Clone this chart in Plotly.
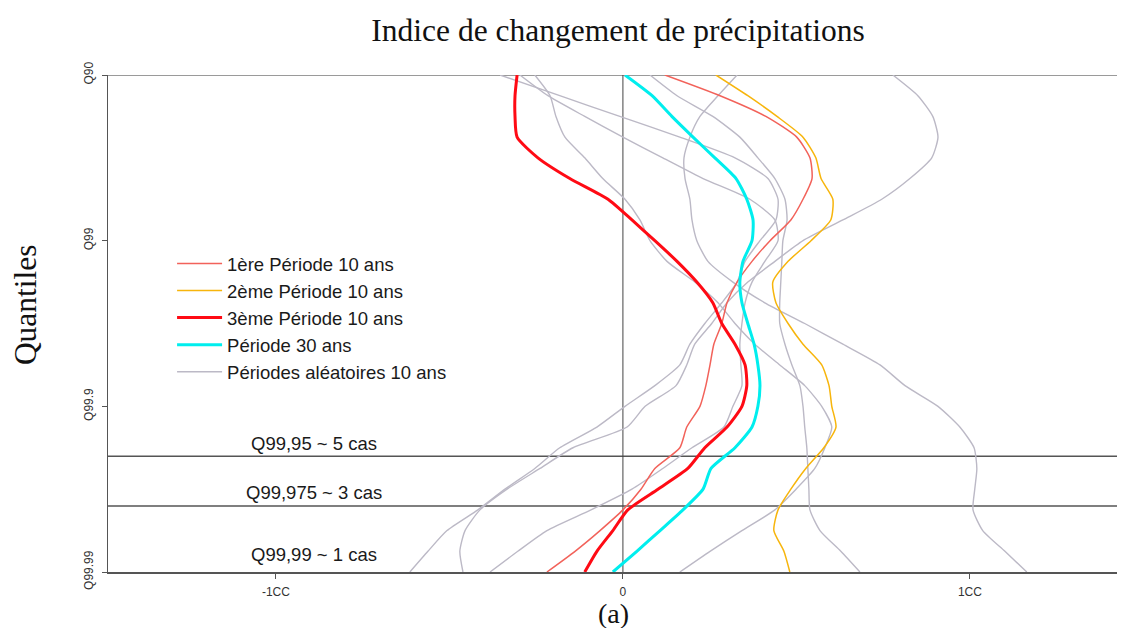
import plotly.graph_objects as go

# Quantile levels on the vertical axis (1 = Q90, 2 = Q99, 3 = Q99.9, 4 = Q99.99)
niveaux = [1.0, 1.125, 1.25, 1.375, 1.5, 1.625, 1.75, 1.875, 2.0, 2.125, 2.25, 2.375,
           2.5, 2.625, 2.75, 2.875, 3.0, 3.125, 3.25, 3.375, 3.5, 3.625, 3.75, 3.875, 4.0]

# Change index (in %, 100 = "1CC") for each series
periode1 = [12.1, 28.0, 41.2, 50.1, 53.9, 54.5, 51.9, 48.4, 42.4, 37.2, 32.9, 30.0,
            28.5, 26.2, 25.1, 23.9, 22.2, 18.4, 16.4, 9.2, 5.2, 0.0, -6.6, -13.8, -21.9]
periode2 = [26.8, 36.0, 44.4, 51.9, 55.6, 57.1, 60.5, 59.9, 54.2, 47.6, 43.2, 44.1,
            47.6, 51.9, 57.3, 59.4, 60.2, 61.4, 57.9, 52.7, 48.4, 44.7, 43.5, 46.4, 48.1]
periode3 = [-30.5, -31.1, -31.1, -30.5, -24.5, -15.3, -4.3, 2.6, 9.2, 15.6, 21.3, 25.9,
            28.5, 32.3, 35.2, 35.7, 34.3, 30.0, 23.6, 18.7, 10.1, 1.4, -2.9, -7.5, -11.0]
periode30 = [0.6, 8.4, 14.1, 20.2, 26.5, 32.6, 35.7, 37.5, 37.2, 34.6, 33.7, 34.3,
             36.0, 37.8, 38.9, 39.5, 38.9, 37.2, 32.3, 25.4, 23.1, 17.3, 10.7, 4.0, -2.9]

alea1 = [77.8, 85.0, 89.3, 90.8, 89.0, 82.7, 74.6, 63.4, 51.9, 43.8, 36.0, 30.0,
         25.6, 20.7, 18.4, 15.3, 6.4, 1.2, -14.4, -23.9, -33.4, -41.2, -45.5, -47.0, -46.1]
alea2 = [7.8, 15.6, 25.9, 33.7, 38.9, 43.8, 46.7, 47.3, 46.1, 45.8, 45.5, 45.2,
         45.2, 46.7, 48.7, 51.0, 51.9, 52.4, 53.0, 53.3, 53.6, 53.9, 56.8, 62.8, 68.3]
alea3 = [32.9, 27.4, 22.2, 19.3, 17.6, 17.9, 19.3, 19.9, 21.3, 24.5, 31.7, 40.9,
         52.4, 63.4, 74.1, 81.3, 90.8, 97.1, 101.2, 102.0, 101.4, 100.9, 103.7, 110.1, 116.4]
alea4 = [-35.4, -18.2, -0.9, 16.4, 32.3, 41.8, 44.7, 44.1, 39.5, 35.2, 32.9, 28.5,
         23.6, 19.3, 16.4, 9.2, 0.6, -7.5, -18.2, -25.4, -34.0, -41.8, -50.7, -56.2, -61.4]
alea5 = [-29.7, -21.6, -11.0, 0.0, 11.5, 23.1, 36.6, 43.8, 44.7, 40.9, 37.2, 35.2,
         34.3, 33.7, 34.0, 34.3, 31.7, 29.1, 19.9, 11.5, 2.6, -9.2, -21.9, -30.3, -38.3]
alea6 = [-25.4, -21.0, -19.3, -16.7, -11.0, -5.8, 0.6, 4.9, 7.8, 12.7, 20.7, 27.4,
         32.3, 38.0, 45.2, 52.4, 57.3, 60.2, 58.2, 55.3, 49.9, 43.8, 34.3, 25.1, 16.4]

ytick_vals = [1, 2, 3, 4]
ytick_text = ["Q90", "Q99", "Q99.9", "Q99.99"]
xtick_vals = [-100, 0, 100]
xtick_text = ["-1CC", "0", "1CC"]

seuils = [3.301, 3.602]          # Q99,95 and Q99,975
seuil_labels = ["Q99,95 ~ 5 cas", "Q99,975 ~ 3 cas", "Q99,99 ~ 1 cas"]
seuil_label_y = [3.222, 3.522, 3.893]

fig = go.Figure()

grey = "#BCB9C6"
for i, xs in enumerate([alea1, alea2, alea3, alea4, alea5, alea6]):
    fig.add_trace(go.Scatter(
        x=xs, y=niveaux, mode="lines", name="Périodes aléatoires 10 ans",
        line=dict(color=grey, width=1.4, shape="spline", smoothing=0.6),
        legendgroup="alea", showlegend=(i == 0), legendrank=5,
        hoverinfo="skip"))

fig.add_trace(go.Scatter(x=periode1, y=niveaux, mode="lines", name="1ère Période 10 ans",
                         line=dict(color="#F2625A", width=1.5, shape="spline", smoothing=0.6),
                         legendrank=1))
fig.add_trace(go.Scatter(x=periode2, y=niveaux, mode="lines", name="2ème Période 10 ans",
                         line=dict(color="#F7B50C", width=1.5, shape="spline", smoothing=0.6),
                         legendrank=2))
fig.add_trace(go.Scatter(x=periode30, y=niveaux, mode="lines", name="Période 30 ans",
                         line=dict(color="#00EEEE", width=3, shape="spline", smoothing=0.6),
                         legendrank=4))
fig.add_trace(go.Scatter(x=periode3, y=niveaux, mode="lines", name="3ème Période 10 ans",
                         line=dict(color="#FF0A14", width=3, shape="spline", smoothing=0.6),
                         legendrank=3))

shapes = [
    dict(type="line", xref="x", yref="y", x0=0, x1=0, y0=1, y1=4,
         line=dict(color="#444444", width=1), layer="below"),
    dict(type="line", xref="paper", yref="y", x0=0, x1=1, y0=1, y1=1,
         line=dict(color="#9a9a9a", width=2), layer="below"),
]
for s in seuils:
    shapes.append(dict(type="line", xref="paper", yref="y", x0=0, x1=1, y0=s, y1=s,
                       line=dict(color="#555555", width=1.5), layer="below"))

annotations = []
for txt, yy in zip(seuil_labels, seuil_label_y):
    annotations.append(dict(x=-88.9, y=yy, xref="x", yref="y", text=txt, showarrow=False,
                            xanchor="center", yanchor="middle",
                            font=dict(family="Liberation Sans, Arial", size=18.5, color="#1a1a1a")))
annotations.append(dict(x=-0.0816, y=0.537, xref="paper", yref="paper", text="Quantiles",
                        showarrow=False, textangle=-90, xanchor="center", yanchor="middle",
                        font=dict(family="Liberation Serif, serif", size=31.5, color="#111")))
annotations.append(dict(x=0.4975, y=-0.0825, xref="paper", yref="paper", text="(a)",
                        showarrow=False, xanchor="center", yanchor="middle",
                        font=dict(family="Liberation Serif, serif", size=28, color="#111")))

# The page body adds an 8px offset; the figure is sized so that it lands on the 1125x628 frame.
fig.update_layout(
    width=1117, height=620,
    margin=dict(l=100, r=0, t=67, b=56),
    paper_bgcolor="white", plot_bgcolor="white",
    title=dict(text="Indice de changement de précipitations", x=0.5461, y=0.9645,
               xanchor="center", yanchor="middle", xref="container", yref="container",
               font=dict(family="Liberation Serif, serif", size=31.5, color="#111")),
    shapes=shapes, annotations=annotations,
    legend=dict(x=0.0630, y=0.658, xanchor="left", yanchor="top", tracegroupgap=0,
                bgcolor="rgba(255,255,255,0)", borderwidth=0, itemwidth=45,
                font=dict(family="Liberation Sans, Arial", size=18.5, color="#1a1a1a")),
    showlegend=True,
)
fig.update_xaxes(range=[-148.4, 144.7], tickvals=xtick_vals, ticktext=xtick_text,
                 showline=True, linecolor="#555555", linewidth=1.5, ticks="outside",
                 ticklen=5, tickcolor="#555555", showgrid=False, zeroline=False,
                 ticklabelstandoff=3,
                 tickfont=dict(family="Liberation Sans, Arial", size=12, color="#333"))
fig.update_yaxes(range=[4, 1], tickvals=ytick_vals, ticktext=ytick_text, tickangle=-90,
                 showline=True, linecolor="#555555", linewidth=1.2, ticks="outside",
                 ticklen=5, tickcolor="#555555", showgrid=False, zeroline=False,
                 ticklabelstandoff=4,
                 tickfont=dict(family="Liberation Sans, Arial", size=12, color="#333"))

fig.write_html("out.html")
